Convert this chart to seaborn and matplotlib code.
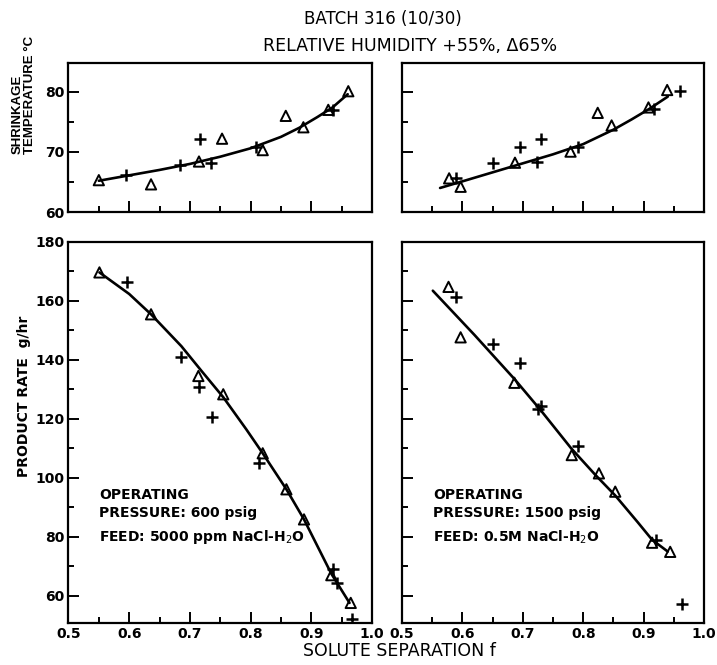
import numpy as np
import pandas as pd
import matplotlib
matplotlib.use("Agg")
import matplotlib.pyplot as plt
from matplotlib import font_manager
from matplotlib.ticker import MultipleLocator, FormatStrFormatter
import seaborn as sns

sns.set_theme(style="white")
plt.rcParams['font.family'] = ['DejaVu Sans']
plt.rcParams['text.color'] = 'black'
plt.rcParams['xtick.color'] = 'black'
plt.rcParams['ytick.color'] = 'black'

_names = {f.name for f in font_manager.fontManager.ttflist}
NARROW = 'Liberation Sans Narrow' if 'Liberation Sans Narrow' in _names else 'Liberation Sans'

# ---------------- data ----------------
# Top-left: shrinkage temperature, 600 psig
tl_tri_f = [0.55, 0.636, 0.715, 0.753, 0.82, 0.858, 0.887, 0.928, 0.961]
tl_tri_T = [65.3, 64.6, 68.4, 72.2, 70.3, 76.0, 74.1, 77.0, 80.1]
tl_plus_f = [0.595, 0.683, 0.716, 0.734, 0.809, 0.936]
tl_plus_T = [66.2, 67.9, 72.1, 68.2, 70.8, 77.0]
tl_curve_f = [0.55, 0.60, 0.65, 0.70, 0.75, 0.80, 0.85, 0.88, 0.91, 0.935, 0.96]
tl_curve_T = [65.2, 66.1, 67.0, 68.0, 69.2, 70.6, 72.5, 74.0, 75.8, 77.4, 79.6]

# Top-right: shrinkage temperature, 1500 psig
tr_tri_f = [0.578, 0.597, 0.687, 0.779, 0.824, 0.847, 0.908, 0.939]
tr_tri_T = [65.6, 64.2, 68.2, 70.05, 76.5, 74.4, 77.4, 80.3]
tr_plus_f = [0.589, 0.651, 0.695, 0.724, 0.730, 0.791, 0.917, 0.96]
tr_plus_T = [65.7, 68.2, 70.8, 68.3, 72.1, 70.9, 77.2, 80.2]
tr_curve_f = [0.563, 0.60, 0.65, 0.70, 0.75, 0.80, 0.85, 0.88, 0.91, 0.94]
tr_curve_T = [64.0, 65.1, 66.6, 68.1, 69.6, 71.3, 73.7, 75.4, 77.2, 79.2]

# Bottom-left: product rate, 600 psig
bl_tri_f = [0.551, 0.636, 0.714, 0.755, 0.82, 0.859, 0.888, 0.933, 0.965]
bl_tri_P = [169.6, 155.4, 134.5, 128.3, 108.3, 96.1, 85.9, 67.0, 57.6]
bl_plus_f = [0.597, 0.686, 0.715, 0.737, 0.814, 0.936, 0.943, 0.967]
bl_plus_P = [166.2, 141.0, 130.8, 120.7, 104.9, 69.0, 64.4, 52.3]
bl_curve_f = [0.551, 0.60, 0.636, 0.686, 0.72, 0.755, 0.793, 0.82, 0.859, 0.888, 0.933, 0.963]
bl_curve_P = [169.6, 162.3, 155.4, 144.6, 136.0, 127.3, 116.4, 108.3, 96.1, 85.9, 67.5, 57.6]

# Bottom-right: product rate, 1500 psig
br_tri_f = [0.577, 0.597, 0.686, 0.781, 0.826, 0.853, 0.914, 0.944]
br_tri_P = [164.7, 147.6, 132.2, 107.7, 101.5, 95.3, 78.0, 74.9]
br_plus_f = [0.59, 0.65, 0.695, 0.725, 0.73, 0.792, 0.92, 0.963]
br_plus_P = [161.2, 145.2, 139.0, 123.3, 124.4, 110.7, 78.9, 57.2]
br_curve_f = [0.551, 0.62, 0.686, 0.73, 0.78, 0.82, 0.853, 0.89, 0.914, 0.94]
br_curve_P = [163.4, 148.4, 133.5, 122.8, 110.0, 101.0, 94.0, 85.0, 79.0, 75.0]

title1 = "BATCH 316 (10/30)"
title2 = "RELATIVE HUMIDITY +55%, \u039465%"
xlabel = "SOLUTE SEPARATION f"
ylabel_top = "SHRINKAGE\nTEMPERATURE \u00b0C"
ylabel_bot = "PRODUCT RATE  g/hr"
note_left = ["OPERATING", "PRESSURE: 600 psig", "FEED: 5000 ppm NaCl-H$_2$O"]
note_right = ["OPERATING", "PRESSURE: 1500 psig", "FEED: 0.5M NaCl-H$_2$O"]

# ---------------- figure ----------------
W, H = 717, 665
fig = plt.figure(figsize=(W / 100, H / 100), dpi=100)
fig.patch.set_facecolor("white")

def frac(px, py):
    return px / W, 1 - py / H

ax_tl = fig.add_axes([0.0955, 0.6812, 0.4233, 0.2241])
ax_tr = fig.add_axes([0.5607, 0.6812, 0.4212, 0.2241])
ax_bl = fig.add_axes([0.0955, 0.0632, 0.4233, 0.5733])
ax_br = fig.add_axes([0.5607, 0.0632, 0.4212, 0.5733])

panels = [
    (ax_tl, tl_tri_f, tl_tri_T, tl_plus_f, tl_plus_T, tl_curve_f, tl_curve_T),
    (ax_tr, tr_tri_f, tr_tri_T, tr_plus_f, tr_plus_T, tr_curve_f, tr_curve_T),
    (ax_bl, bl_tri_f, bl_tri_P, bl_plus_f, bl_plus_P, bl_curve_f, bl_curve_P),
    (ax_br, br_tri_f, br_tri_P, br_plus_f, br_plus_P, br_curve_f, br_curve_P),
]

for ax, tf, ty, pf, py, cf, cy in panels:
    ax.set_facecolor("white")
    sns.lineplot(x=cf, y=cy, ax=ax, color="black", linewidth=1.9,
                 sort=False, estimator=None)
    sns.scatterplot(x=tf, y=ty, ax=ax, marker="^", s=55,
                    facecolor="none", edgecolor="black", linewidth=1.4, zorder=3)
    sns.scatterplot(x=pf, y=py, ax=ax, marker="+", s=75,
                    color="black", linewidth=1.8, zorder=3)
    ax.set_xlim(0.5, 1.0)
    ax.xaxis.set_major_locator(MultipleLocator(0.1))
    ax.xaxis.set_minor_locator(MultipleLocator(0.05))
    ax.xaxis.set_major_formatter(FormatStrFormatter("%.1f"))
    for sp in ax.spines.values():
        sp.set_visible(True)
        sp.set_color("black")
        sp.set_linewidth(1.6)
    ax.tick_params(which="both", direction="in", left=True, bottom=True,
                   right=False, top=False, color="black", width=1.4,
                   labelsize=10, labelcolor="black")
    ax.tick_params(which="major", length=8, pad=3)
    ax.tick_params(which="minor", length=4)
    for lab in ax.get_xticklabels() + ax.get_yticklabels():
        lab.set_fontweight("semibold")
    ax.set_xlabel("")
    ax.set_ylabel("")
    ax.grid(False)

for ax in (ax_tl, ax_tr):
    ax.set_ylim(60, 84.8)
    ax.yaxis.set_major_locator(MultipleLocator(10))
    ax.yaxis.set_minor_locator(MultipleLocator(5))
    ax.tick_params(labelbottom=False)
for ax in (ax_bl, ax_br):
    ax.set_ylim(50.8, 180)
    ax.yaxis.set_major_locator(MultipleLocator(20))
    ax.yaxis.set_minor_locator(MultipleLocator(10))
ax_tr.tick_params(labelleft=False)
ax_br.tick_params(labelleft=False)

# titles and axis labels
fig.text(*frac(383, 19), title1, ha="center", va="center", fontsize=12)
fig.text(*frac(410, 46), title2, ha="center", va="center", fontsize=12.5)
fig.text(*frac(399, 651), xlabel, ha="center", va="center", fontsize=12.5)
fig.text(*frac(24, 154), ylabel_top, ha="center", va="bottom", rotation=90,
         fontsize=9.5, fontweight="bold", multialignment="left", linespacing=1.05,
         family=[NARROW, 'DejaVu Sans'])
fig.text(*frac(24, 396), ylabel_bot, ha="center", va="center", rotation=90,
         fontsize=10, fontweight="bold")

for xs, lines in ((99, note_left), (433, note_right)):
    fig.text(*frac(xs, 495), lines[0], ha="left", va="center", fontsize=10, fontweight="bold")
    fig.text(*frac(xs, 513), lines[1], ha="left", va="center", fontsize=10, fontweight="bold")
    fig.text(*frac(xs, 537), lines[2], ha="left", va="center", fontsize=10, fontweight="bold")

fig.savefig("out.png", dpi=100, facecolor="white")
